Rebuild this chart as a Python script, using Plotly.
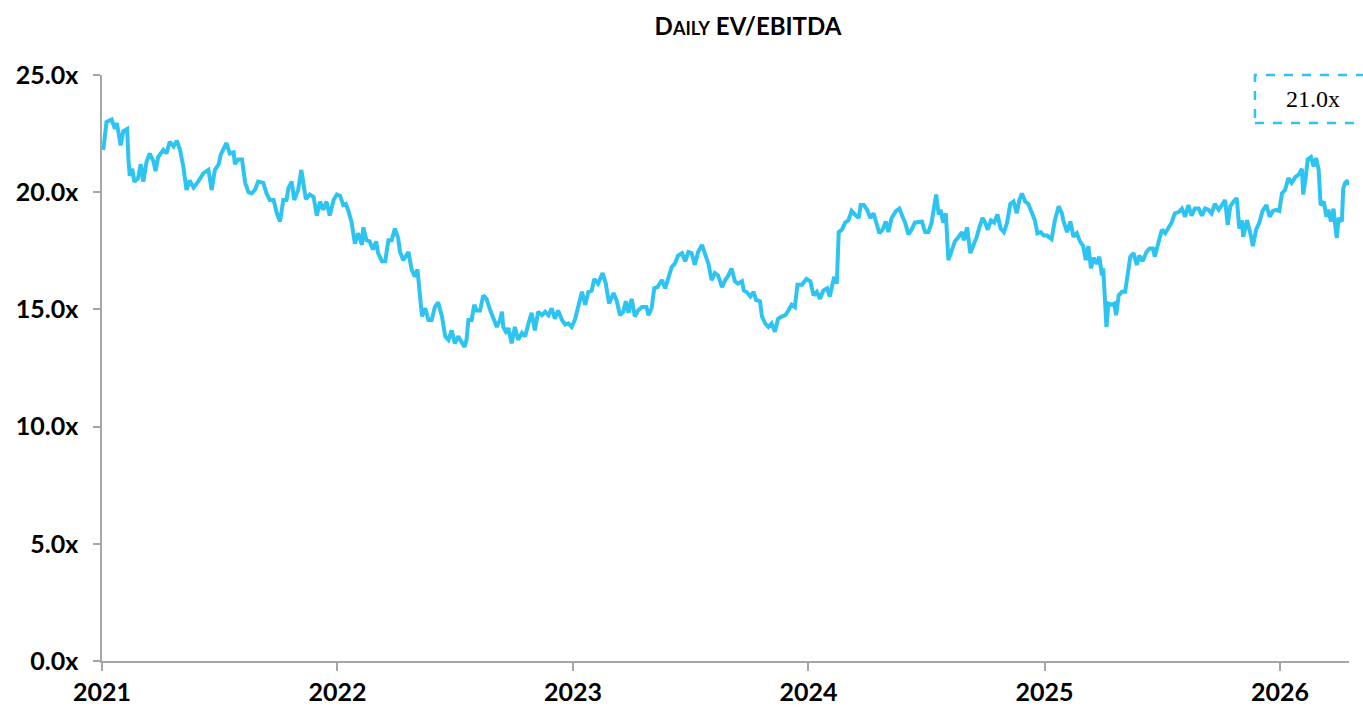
import pandas as pd
import plotly.graph_objects as go

# ---- data ----
start_date = "2021-01-01"
day_offsets = [
    2, 7, 15, 20, 23, 25, 29, 33, 39, 41,
    43, 47, 50, 56, 60, 64, 69, 74, 80, 83,
    87, 95, 100, 105, 111, 116, 121, 126, 131, 136,
    142, 149, 157, 165, 170, 175, 181, 184, 193, 198,
    204, 206, 211, 217, 222, 227, 232, 237, 242, 250,
    255, 260, 266, 271, 276, 281, 286, 289, 294, 298,
    304, 309, 312, 316, 322, 328, 333, 338, 343, 348,
    353, 359, 364, 369, 374, 378, 382, 387, 392, 397,
    403, 405, 410, 415, 420, 425, 428, 434, 439, 444,
    449, 454, 459, 462, 467, 475, 480, 485, 489, 493,
    496, 501, 506, 511, 516, 521, 527, 532, 537, 542,
    547, 552, 558, 562, 565, 568, 573, 577, 581, 586,
    591, 596, 602, 607, 612, 617, 620, 622, 626, 630,
    635, 640, 645, 651, 656, 661, 666, 671, 676, 682,
    687, 692, 697, 702, 707, 713, 718, 723, 728, 733,
    738, 744, 749, 754, 759, 763, 769, 776, 781, 786,
    793, 798, 803, 808, 812, 816, 821, 826, 831, 837,
    844, 847, 852, 856, 861, 868, 873, 878, 883, 888,
    893, 899, 904, 909, 914, 919, 924, 930, 935, 940,
    945, 950, 955, 961, 966, 971, 976, 981, 986, 992,
    995, 999, 1005, 1010, 1014, 1020, 1023, 1028, 1033, 1038,
    1043, 1048, 1054, 1059, 1064, 1069, 1074, 1078, 1085, 1092,
    1098, 1103, 1108, 1113, 1118, 1124, 1128, 1131, 1135, 1139,
    1142, 1147, 1152, 1157, 1162, 1167, 1173, 1176, 1181, 1186,
    1191, 1196, 1201, 1205, 1210, 1215, 1219, 1224, 1231, 1236,
    1241, 1245, 1250, 1255, 1260, 1266, 1271, 1276, 1281, 1286,
    1290, 1293, 1297, 1300, 1304, 1308, 1312, 1317, 1322, 1328,
    1333, 1336, 1341, 1346, 1351, 1356, 1360, 1365, 1369, 1373,
    1378, 1383, 1388, 1393, 1398, 1403, 1408, 1413, 1418, 1422,
    1426, 1431, 1436, 1441, 1446, 1450, 1455, 1460, 1465, 1472,
    1477, 1483, 1488, 1490, 1496, 1501, 1506, 1511, 1516, 1521,
    1525, 1529, 1533, 1537, 1542, 1546, 1550, 1552, 1555, 1557,
    1560, 1565, 1569, 1572, 1576, 1581, 1586, 1590, 1594, 1599,
    1604, 1608, 1613, 1619, 1624, 1629, 1632, 1638, 1643, 1648,
    1653, 1658, 1663, 1669, 1674, 1679, 1684, 1689, 1694, 1700,
    1705, 1710, 1715, 1720, 1725, 1731, 1736, 1741, 1745, 1749,
    1754, 1759, 1763, 1767, 1769, 1775, 1780, 1784, 1789, 1794,
    1799, 1805, 1810, 1815, 1820, 1825, 1829, 1834, 1839, 1844,
    1850, 1855, 1860, 1862, 1866, 1869, 1874, 1878, 1882, 1886,
    1889, 1894, 1898, 1901, 1905, 1909, 1912, 1914, 1917, 1922,
    1924, 1927, 1931, 1932,
]
ev_ebitda = [
    21.8, 23.0, 23.1, 22.7, 22.95, 22.65, 22.0, 22.6, 22.7, 21.4,
    20.7, 21.0, 20.45, 20.6, 21.2, 20.45, 21.3, 21.65, 21.3, 20.9,
    21.5, 21.8, 21.65, 22.15, 21.95, 22.2, 21.8, 21.1, 20.1, 20.5,
    20.2, 20.45, 20.8, 20.95, 20.1, 20.95, 21.2, 21.6, 22.1, 21.65,
    21.7, 21.2, 21.4, 21.4, 20.4, 20.0, 19.95, 20.1, 20.45, 20.4,
    19.95, 19.67, 19.67, 19.1, 18.75, 19.67, 19.67, 20.17, 20.45, 19.67,
    20.1, 20.95, 20.4, 19.7, 19.9, 19.8, 19.0, 19.6, 19.25, 19.6,
    19.0, 19.67, 19.9, 19.85, 19.45, 19.5, 19.2, 18.7, 17.8, 18.25,
    17.75, 18.5, 17.95, 17.9, 17.55, 17.9, 17.4, 17.05, 17.05, 17.95,
    17.95, 18.45, 18.05, 17.45, 17.1, 17.45, 16.7, 16.4, 16.7, 15.55,
    14.7, 15.05, 14.55, 14.55, 15.1, 15.3, 14.7, 13.85, 13.7, 14.1,
    13.55, 13.85, 13.55, 13.4, 13.7, 14.55, 14.55, 15.2, 14.95, 14.95,
    15.6, 15.45, 14.95, 14.55, 14.25, 14.55, 14.9, 14.25, 14.05, 14.2,
    13.55, 14.25, 13.7, 14.0, 13.85, 14.4, 14.85, 14.1, 14.9, 14.75,
    14.9, 14.75, 15.05, 14.6, 14.95, 14.55, 14.35, 14.4, 14.25, 14.55,
    15.1, 15.75, 15.2, 15.75, 15.8, 16.3, 16.1, 16.55, 16.1, 15.25,
    15.7, 15.35, 14.75, 14.9, 15.35, 14.85, 15.45, 14.7, 14.95, 15.1,
    15.1, 14.75, 15.05, 15.9, 15.95, 16.25, 15.9, 16.3, 16.8, 16.95,
    17.3, 17.4, 17.05, 17.45, 17.4, 16.9, 17.45, 17.75, 17.3, 16.95,
    16.25, 16.55, 16.45, 15.95, 16.25, 16.45, 16.75, 16.2, 16.1, 16.2,
    15.8, 15.75, 15.55, 15.75, 15.4, 15.35, 14.7, 14.4, 14.25, 14.4,
    14.05, 14.6, 14.7, 14.75, 14.95, 15.2, 15.1, 16.05, 16.05, 16.3,
    16.2, 15.6, 15.75, 15.45, 15.8, 15.9, 15.55, 15.95, 16.4, 16.1,
    18.3, 18.4, 18.7, 18.8, 19.2, 19.05, 18.9, 19.45, 19.45, 19.25,
    18.9, 19.1, 18.6, 18.25, 18.4, 18.75, 18.3, 18.9, 19.2, 19.3,
    18.95, 18.7, 18.2, 18.4, 18.7, 18.75, 18.75, 18.3, 18.3, 18.7,
    19.4, 19.9, 19.05, 19.25, 18.7, 19.1, 17.1, 17.45, 17.9, 18.1,
    18.3, 17.95, 18.5, 17.4, 17.7, 18.1, 18.5, 18.9, 18.7, 18.4,
    18.8, 18.7, 19.05, 18.45, 18.3, 18.7, 19.5, 19.6, 19.1, 19.67,
    19.95, 19.6, 19.5, 19.2, 18.8, 18.25, 18.3, 18.15, 18.15, 18.0,
    18.8, 19.4, 19.1, 18.8, 18.3, 18.75, 18.1, 18.25, 17.9, 17.7,
    17.1, 17.7, 16.75, 17.2, 16.95, 17.25, 16.45, 16.75, 14.85, 14.25,
    15.25, 15.2, 15.25, 14.75, 15.6, 15.75, 15.75, 16.4, 17.25, 17.4,
    16.9, 17.3, 17.05, 17.45, 17.6, 17.6, 17.25, 17.9, 18.4, 18.25,
    18.45, 18.7, 19.1, 19.15, 19.3, 18.95, 19.45, 19.0, 19.3, 19.3,
    19.0, 19.3, 19.25, 19.1, 19.5, 19.25, 19.45, 19.67, 18.6, 19.4,
    19.6, 19.75, 18.45, 18.8, 18.1, 18.8, 18.25, 17.7, 18.4, 18.7,
    19.2, 19.45, 18.95, 19.2, 19.25, 19.2, 19.95, 20.1, 20.6, 20.4,
    20.65, 20.75, 21.0, 19.9, 20.65, 21.4, 21.5, 21.1, 21.45, 20.95,
    19.45, 19.6, 18.95, 19.25, 18.75, 19.3, 18.5, 18.05, 18.9, 18.75,
    20.15, 20.4, 20.5, 20.3,
]
year_ticks = ["2021-01-01", "2022-01-01", "2023-01-01", "2024-01-01", "2025-01-01", "2026-01-01"]
year_labels = ["2021", "2022", "2023", "2024", "2025", "2026"]
y_ticks = [0, 5, 10, 15, 20, 25]
y_labels = ["0.0x", "5.0x", "10.0x", "15.0x", "20.0x", "25.0x"]
latest_label = "21.0x"
x_end = "2026-04-18"

n = min(len(day_offsets), len(ev_ebitda))
dates = pd.Timestamp(start_date) + pd.to_timedelta(day_offsets[:n], unit="D")

LINE = "#2EC4F2"
AXIS = "#A6A6A6"
FONT = "Lato"

fig = go.Figure()
fig.add_trace(go.Scatter(
    x=dates, y=ev_ebitda[:n], mode="lines",
    line=dict(color=LINE, width=4), showlegend=False,
))

fig.update_layout(
    width=1363, height=707,
    margin=dict(l=102, r=14, t=75, b=46, autoexpand=False),
    paper_bgcolor="white", plot_bgcolor="white",
    font=dict(family=FONT, color="black"),
    title=dict(
        text="<b>D<span style='font-size:18px'>AILY</span> EV/EBITDA</b>",
        xref="container", x=0.5488, xanchor="center",
        yref="container", y=0.962, yanchor="middle",
        font=dict(family=FONT, size=24, color="black"),
    ),
    xaxis=dict(
        type="date", range=[start_date, x_end],
        tickvals=year_ticks, ticktext=year_labels,
        showgrid=False, zeroline=False, automargin=False,
        showline=True, linecolor=AXIS, linewidth=1.5,
        ticks="outside", ticklen=8, tickcolor=AXIS, tickwidth=1.5,
        tickfont=dict(family=FONT, size=25, color="black", weight="bold"),
    ),
    yaxis=dict(
        range=[0, 25], tickvals=y_ticks, ticktext=y_labels,
        showgrid=False, zeroline=False, automargin=False,
        showline=True, linecolor=AXIS, linewidth=1.5,
        ticks="outside", ticklen=7, tickcolor=AXIS, tickwidth=1.5,
        tickfont=dict(family=FONT, size=25, color="black", weight="bold"),
        ticklabelstandoff=10,
    ),
)

# dashed value box (top-right)
fig.add_shape(
    type="rect", xref="paper", yref="paper",
    x0=0.9246, x1=1.0144, y0=0.918, y1=1.0,
    line=dict(color=LINE, width=2.5, dash="dash"),
    fillcolor="rgba(0,0,0,0)", layer="above",
)
fig.add_annotation(
    xref="paper", yref="paper", x=0.971, y=0.959,
    text=latest_label, showarrow=False,
    font=dict(family="Liberation Serif", size=24, color="black"),
    xanchor="center", yanchor="middle",
)

fig.write_html(
    "out.html",
    config={"displayModeBar": False},
    post_script="document.body.style.margin='0';document.body.style.overflow='hidden';",
)
